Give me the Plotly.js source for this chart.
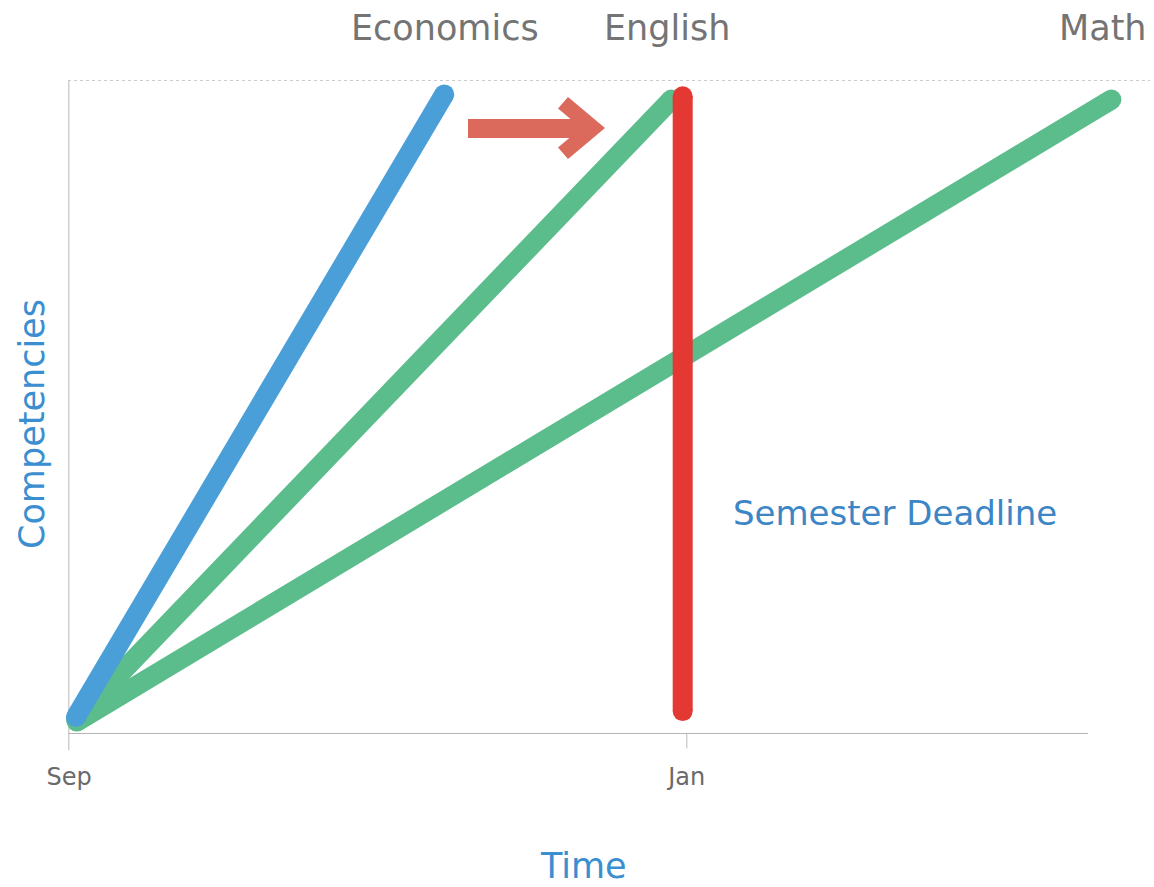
<!DOCTYPE html>
<html><head><meta charset="utf-8">
<script src="https://cdn.plot.ly/plotly-3.0.1.min.js"></script>
<style>html,body{margin:0;padding:0;background:#fff}#chart{width:1154px;height:887px}</style>
</head><body><div id="chart"></div>
<script>
// x in months after start of Sep (Sep=0, Jan=4); y in % of competencies
const tickVals = [0, 4];
const tickLabels = ['Sep', 'Jan'];
const econX = [0.045, 2.43];
const econY = [2.6, 97.8];
const englishX = [0.045, 3.90];
const englishY = [2.2, 97.0];
const mathX = [0.05, 6.75];
const mathY = [1.9, 97.0];
const deadlineX = [3.974, 3.974];
const deadlineY = [3.5, 97.5];
const subjectLabels = ['Economics', 'English', 'Math'];
const subjectLabelX = [2.435, 3.87, 6.695];

const W = 1154, H = 887, L = 68, R = 4, T = 80, B = 153;
const xr = [-0.0065, 7.0], yr = [0, 100];
const px2x = p => xr[0] + (p - L) / (W - L - R) * (xr[1] - xr[0]);
const px2y = p => yr[1] - (p - T) / (H - T - B) * (yr[1] - yr[0]);
const pxPaperX = p => (p - L) / (W - L - R);
const pxPaperY = p => (H - B - p) / (H - T - B);
const FONT = 'DejaVu Sans, sans-serif';

function line(x, y, c, w) {
  return {x: x, y: y, mode: 'lines+markers', type: 'scatter', hoverinfo: 'skip',
    line: {color: c, width: w}, marker: {color: c, size: w, line: {width: 0}}, cliponaxis: false};
}
const data = [
  line(mathX, mathY, '#5abd8b', 20),
  line(englishX, englishY, '#5abd8b', 20),
  line(econX, econY, '#4b9fd9', 20),
  line(deadlineX, deadlineY, '#e33932', 20)
];

const arrow = [[468,119],[570.5,119],[558,108.5],[568,97],[605,128],[568,159],[558,147.5],[569.3,138],[468,138]];
const arrowPath = 'M ' + arrow.map(p => px2x(p[0]).toFixed(4) + ',' + px2y(p[1]).toFixed(3)).join(' L ') + ' Z';

const shapes = [
  {type: 'line', xref: 'paper', yref: 'y', x0: 0, x1: 1, y0: 100, y1: 100, line: {color: '#bbbbbb', width: 1.5, dash: 'dot'}, layer: 'below'},
  {type: 'line', xref: 'x', yref: 'paper', x0: px2x(68.5), x1: px2x(68.5), y0: 1, y1: -0.025, line: {color: '#cfcfcf', width: 2}, layer: 'below'},
  {type: 'line', xref: 'x', yref: 'y', x0: px2x(68), x1: px2x(1088), y0: 0, y1: 0, line: {color: '#b5b5b5', width: 2}, layer: 'below'},
  {type: 'line', xref: 'x', yref: 'paper', x0: 4, x1: 4, y0: 0, y1: -0.022, line: {color: '#d0d0d0', width: 1.5}, layer: 'below'},
  {type: 'path', xref: 'x', yref: 'y', path: arrowPath, fillcolor: '#dc6a5c', line: {width: 0}}
];

const annotations = subjectLabels.map((t, i) => ({
  text: t, x: subjectLabelX[i], xref: 'x', y: pxPaperY(28), yref: 'paper', showarrow: false,
  font: {family: FONT, size: 35, color: '#747474'}, xanchor: 'center', yanchor: 'middle'
}));
annotations.push({text: 'Semester Deadline', x: px2x(731), y: px2y(513), xref: 'x', yref: 'y', showarrow: false,
  xanchor: 'left', yanchor: 'middle', font: {family: FONT, size: 34, color: '#3c86c6'}});
annotations.push({text: 'Competencies', x: pxPaperX(32), y: pxPaperY(424), xref: 'paper', yref: 'paper', showarrow: false,
  textangle: -90, xanchor: 'center', yanchor: 'middle', font: {family: FONT, size: 35, color: '#3b8fd0'}});
annotations.push({text: 'Time', x: px2x(583), y: pxPaperY(866), xref: 'x', yref: 'paper', showarrow: false,
  xanchor: 'center', yanchor: 'middle', font: {family: FONT, size: 35, color: '#3b8fd0'}});

const layout = {
  width: W, height: H, margin: {l: L, r: R, t: T, b: B},
  paper_bgcolor: '#ffffff', plot_bgcolor: '#ffffff', showlegend: false,
  xaxis: {range: xr, tickvals: tickVals, ticktext: tickLabels, showgrid: false, zeroline: false, showline: false,
    ticks: '', tickfont: {family: FONT, size: 24, color: '#6a6a6a'}, ticklabelstandoff: 26, fixedrange: true},
  yaxis: {range: yr, showgrid: false, zeroline: false, showline: false, showticklabels: false, ticks: '', fixedrange: true},
  shapes: shapes, annotations: annotations
};
Plotly.newPlot('chart', data, layout, {displayModeBar: false, staticPlot: true});
</script></body></html>
